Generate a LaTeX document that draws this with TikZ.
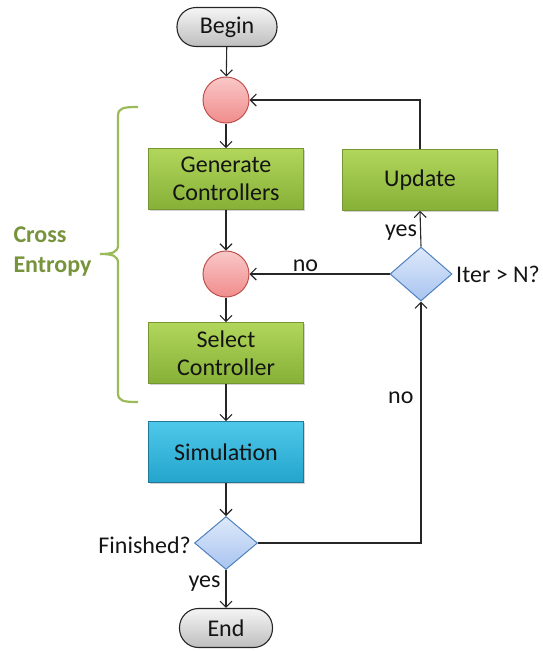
\documentclass[tikz,border=0pt]{standalone}
\usepackage{fontspec}
\setmainfont{Carlito}
\usetikzlibrary{shapes.geometric,arrows.meta,shadows,calc}
\definecolor{txt}{RGB}{20,20,20}
\definecolor{greenTop}{RGB}{178,214,92}
\definecolor{greenBot}{RGB}{134,176,54}
\definecolor{greenLine}{RGB}{118,150,52}
\definecolor{blueTop}{RGB}{78,200,234}
\definecolor{blueBot}{RGB}{36,164,204}
\definecolor{blueLine}{RGB}{30,120,150}
\definecolor{pinkTop}{RGB}{250,200,200}
\definecolor{pinkBot}{RGB}{240,140,140}
\definecolor{pinkLine}{RGB}{192,80,77}
\definecolor{diaTop}{RGB}{222,233,250}
\definecolor{diaBot}{RGB}{168,196,240}
\definecolor{diaLine}{RGB}{79,129,189}
\definecolor{grayTop}{RGB}{245,245,245}
\definecolor{grayBot}{RGB}{190,190,190}
\definecolor{braceCol}{RGB}{155,187,89}
\definecolor{ceText}{RGB}{119,147,60}
\begin{document}
\begin{tikzpicture}[x=1pt,y=1pt,
  every node/.style={font=\fontsize{24}{28}\selectfont, text=txt},
  conn/.style={line width=1.1pt, draw=black!85, -{Straight Barb[length=6pt,width=12pt,line width=1.1pt]}},
  procbox/.style={rectangle, minimum width=155pt, minimum height=61pt, align=center, inner sep=2pt,
    top color=greenTop, bottom color=greenBot, draw=greenLine, line width=0.6pt,
    drop shadow={opacity=0.35, shadow xshift=1pt, shadow yshift=-1.5pt}},
  simbox/.style={procbox, top color=blueTop, bottom color=blueBot, draw=blueLine},
  junction/.style={circle, minimum size=46pt, inner sep=0pt, top color=pinkTop, bottom color=pinkBot, draw=pinkLine, line width=1pt},
  decision/.style={diamond, inner sep=0pt, top color=diaTop, bottom color=diaBot, draw=diaLine, line width=1pt},
  terminal/.style={rectangle, rounded corners=19pt, minimum height=39pt, inner sep=0pt,
    top color=grayTop, bottom color=grayBot, draw=black!85, line width=1.1pt},
  lbl/.style={inner sep=1pt},
  bracestyle/.style={draw=braceCol, line width=2.2pt}
]
\useasboundingbox (0,0) rectangle (543,-651);

\node[terminal, minimum width=100pt] (begin) at (227,-27) {Begin};
\node[junction] (c1) at (226,-100) {};
\node[procbox] (gen) at (226,-179) {Generate\\Controllers};
\node[procbox] (upd) at (420,-180) {Update};
\node[junction] (c2) at (226,-274) {};
\node[decision, minimum width=62pt, minimum height=54pt] (iter) at (421,-274) {};
\node[procbox] (sel) at (226,-353) {Select\\Controller};
\node[simbox] (sim) at (226,-452) {Simulation};
\node[decision, minimum width=63pt, minimum height=53pt] (fin) at (226,-543) {};
\node[terminal, minimum width=93pt] (end) at (226,-628) {End};

\node[lbl, anchor=west] (iterlbl) at (455,-274) {Iter > N?};
\node[lbl, anchor=east] (finlbl) at (192,-545) {Finished?};

\draw[conn] (begin) -- (c1);
\draw[conn] (c1) -- (gen);
\draw[conn] (gen) -- (c2);
\draw[conn] (c2) -- (sel);
\draw[conn] (sel) -- (sim);
\draw[conn] (sim) -- (fin);
\draw[conn] (fin) -- node[lbl, left, pos=0.35, xshift=-4pt] {yes} (end);
\draw[conn] (fin.east) -- (iter.south |- fin.east) -- node[lbl, left, pos=0.6, xshift=-6pt] {no} (iter.south);
\draw[conn] (iter.west) -- node[lbl, above, pos=0.6, yshift=1pt] {no} (c2.east);
\draw[conn] (iter.north) -- node[lbl, left, pos=0.4, xshift=-2pt] {yes} (upd.south);
\draw[conn] (upd.north) -- (upd.north |- c1.east) -- (c1.east);

\draw[bracestyle]
  (138,-107) .. controls (123,-107) and (118,-108) .. (118,-116)
  -- (118,-245) .. controls (118,-252) and (113,-254) .. (100,-254)
  .. controls (113,-254) and (118,-256) .. (118,-263)
  -- (118,-393) .. controls (118,-401) and (123,-402) .. (138,-402);
\node[anchor=west, align=left, text=ceText, font=\fontsize{24}{30}\selectfont\bfseries] (ce) at (10,-252) {Cross\\Entropy};
\end{tikzpicture}
\end{document}
